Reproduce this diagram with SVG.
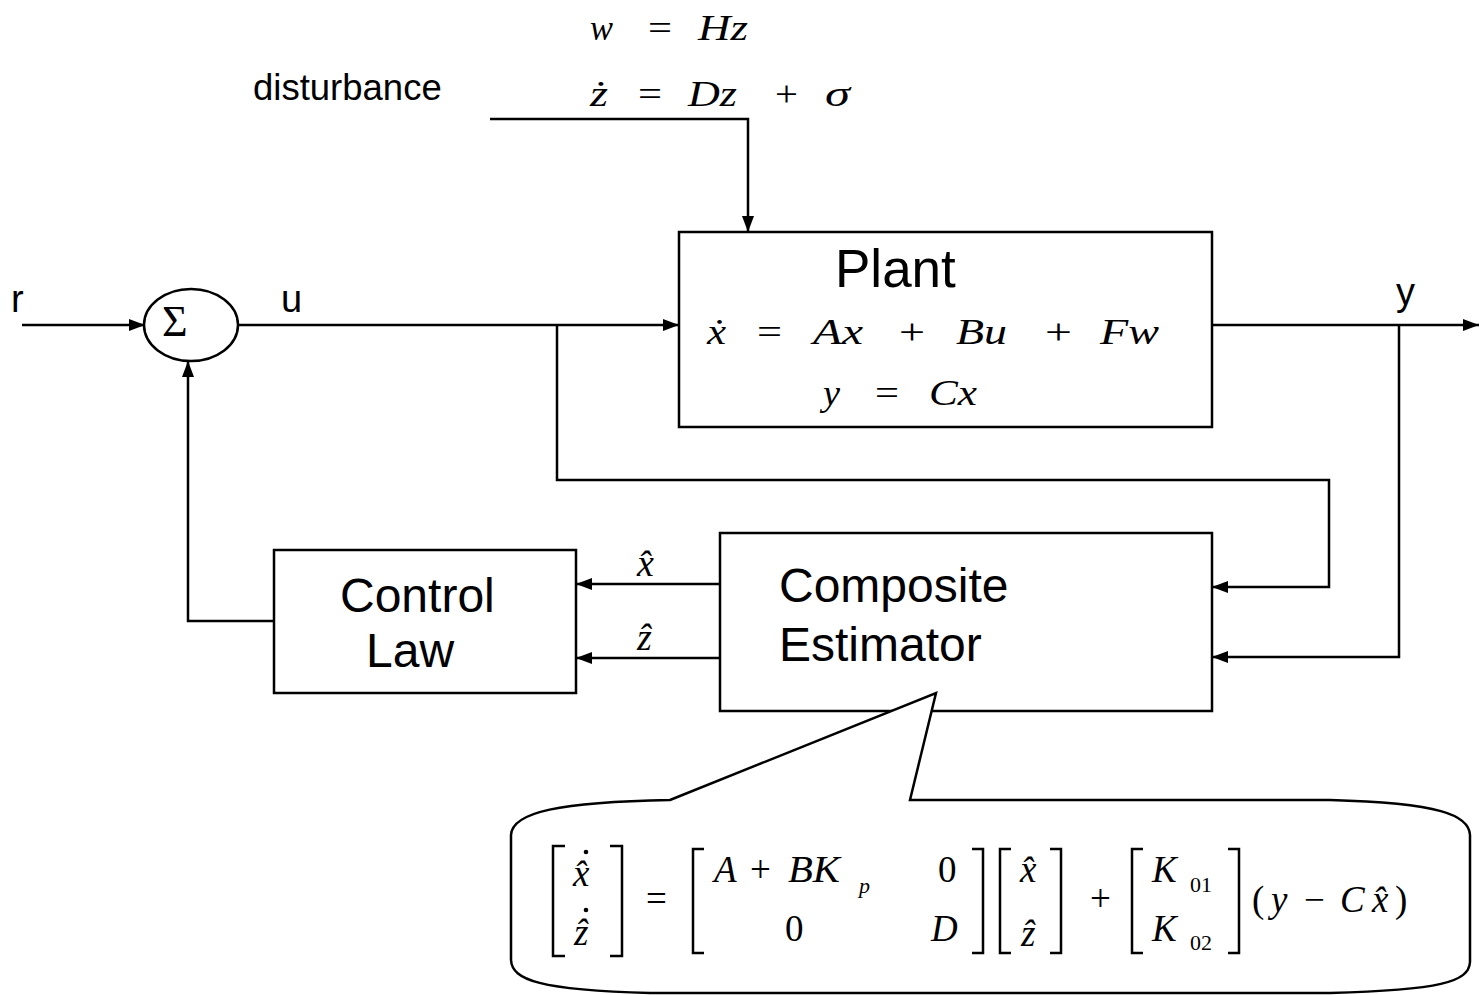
<svg xmlns="http://www.w3.org/2000/svg" width="1479" height="995" viewBox="0 0 1479 995">
<style>
.ln{fill:none;stroke:#000;stroke-width:2.5}
.bx{fill:#fff;stroke:#000;stroke-width:2.5}
.sans{font-family:"Liberation Sans",Arial,sans-serif;fill:#000}
.m{font-family:"Liberation Serif","Times New Roman",serif;font-style:italic;fill:#000}
.r{font-family:"Liberation Serif","Times New Roman",serif;fill:#000}
.br{fill:none;stroke:#000;stroke-width:2.5}
</style>
<defs>
<marker id="ah" viewBox="0 0 16 12" refX="16" refY="6" markerWidth="16" markerHeight="12" markerUnits="userSpaceOnUse" orient="auto">
<path d="M0,0 L16,6 L0,12 Z" fill="#000"/>
</marker>
</defs>
<rect width="1479" height="995" fill="#fff"/>

<g id="connectors">
<path class="ln" d="M490,119 H748 V232" marker-end="url(#ah)"/>
<path class="ln" d="M22,325 H145" marker-end="url(#ah)"/>
<path class="ln" d="M238,325 H679" marker-end="url(#ah)"/>
<path class="ln" d="M557,325 V480 H1329 V587 H1212" marker-end="url(#ah)"/>
<path class="ln" d="M1212,325 H1479" marker-end="url(#ah)"/>
<path class="ln" d="M1399,325 V657 H1212" marker-end="url(#ah)"/>
<path class="ln" d="M720,584 H576" marker-end="url(#ah)"/>
<path class="ln" d="M720,658 H576" marker-end="url(#ah)"/>
<path class="ln" d="M274,621 H188 V361" marker-end="url(#ah)"/>
</g>

<g id="labels">
<text class="sans" x="253" y="100" font-size="36.5">disturbance</text>
<text class="sans" x="11" y="312" font-size="38">r</text>
<text class="sans" x="281" y="312" font-size="38">u</text>
<text class="sans" x="1396" y="305" font-size="38">y</text>
<text class="m" x="637" y="576" font-size="38">x&#x302;</text>
<text class="m" x="637" y="650" font-size="38">&#x1E91;</text>
</g>

<g id="disturbance-model">
<text class="m" x="590" y="40" font-size="36" textLength="23" lengthAdjust="spacingAndGlyphs">w</text>
<text class="r" x="648" y="40" font-size="36" textLength="24" lengthAdjust="spacingAndGlyphs">=</text>
<text class="m" x="698" y="40" font-size="36" textLength="50" lengthAdjust="spacingAndGlyphs">Hz</text>
<text class="m" x="590" y="106" font-size="36" textLength="18" lengthAdjust="spacingAndGlyphs">&#x17C;</text>
<text class="r" x="638" y="106" font-size="36" textLength="24" lengthAdjust="spacingAndGlyphs">=</text>
<text class="m" x="688" y="106" font-size="36" textLength="49" lengthAdjust="spacingAndGlyphs">Dz</text>
<text class="r" x="775" y="106" font-size="36" textLength="23" lengthAdjust="spacingAndGlyphs">+</text>
<text class="m" x="825" y="106" font-size="36" textLength="25" lengthAdjust="spacingAndGlyphs">σ</text>
</g>

<g id="sum">
<ellipse cx="191" cy="325" rx="47" ry="36" class="bx"/>
<text class="r" x="162" y="336" font-size="44">Σ</text>
</g>

<g id="plant">
<rect x="679" y="232" width="533" height="195" class="bx"/>
<text class="sans" x="835" y="287" font-size="53">Plant</text>
<text class="m" x="707" y="344" font-size="36" textLength="19" lengthAdjust="spacingAndGlyphs">&#x1E8B;</text>
<text class="r" x="757" y="344" font-size="36" textLength="25" lengthAdjust="spacingAndGlyphs">=</text>
<text class="m" x="813" y="344" font-size="36" textLength="50" lengthAdjust="spacingAndGlyphs">Ax</text>
<text class="r" x="899" y="344" font-size="36" textLength="26" lengthAdjust="spacingAndGlyphs">+</text>
<text class="m" x="956" y="344" font-size="36" textLength="51" lengthAdjust="spacingAndGlyphs">Bu</text>
<text class="r" x="1045" y="344" font-size="36" textLength="27" lengthAdjust="spacingAndGlyphs">+</text>
<text class="m" x="1100" y="344" font-size="36" textLength="59" lengthAdjust="spacingAndGlyphs">Fw</text>
<text class="m" x="823" y="405" font-size="36" textLength="17" lengthAdjust="spacingAndGlyphs">y</text>
<text class="r" x="875" y="405" font-size="36" textLength="24" lengthAdjust="spacingAndGlyphs">=</text>
<text class="m" x="929" y="405" font-size="36" textLength="48" lengthAdjust="spacingAndGlyphs">Cx</text>
</g>

<g id="control-law">
<rect x="274" y="550" width="302" height="143" class="bx"/>
<text class="sans" x="340" y="612" font-size="48">Control</text>
<text class="sans" x="366" y="667" font-size="48">Law</text>
</g>

<g id="estimator">
<rect x="720" y="533" width="492" height="178" class="bx"/>
<text class="sans" x="779" y="602" font-size="48">Composite</text>
<text class="sans" x="779" y="661" font-size="48">Estimator</text>
</g>

<g id="callout">
<path class="bx" d="M670,800 L936,693 L910,800 L1330,800 C1440,803 1469,815 1470,835 L1470,962 C1469,982 1440,990 1330,993 L650,993 C540,990 512,980 511,960 L511,835 C512,812 560,802 670,800 Z"/>
<path class="br" d="M565,846 H553 V956 H565 M610,846 H622 V956 H610"/>
<text class="m" x="573" y="886" font-size="37">x&#x302;</text>
<circle cx="586" cy="852" r="2.3" fill="#000"/>
<text class="m" x="574" y="945" font-size="37">&#x1E91;</text>
<circle cx="586" cy="910" r="2.3" fill="#000"/>
<text class="r" x="646" y="911" font-size="37">=</text>
<path class="br" d="M704,849 H693 V953 H704 M972,849 H983 V953 H972"/>
<text class="m" x="714" y="882" font-size="37">A</text>
<text class="r" x="750" y="882" font-size="37">+</text>
<text class="m" x="788" y="882" font-size="37" textLength="52" lengthAdjust="spacingAndGlyphs">BK</text>
<text class="m" x="859" y="893" font-size="22">p</text>
<text class="r" x="938" y="882" font-size="37">0</text>
<text class="r" x="785" y="941" font-size="37">0</text>
<text class="m" x="931" y="941" font-size="37">D</text>
<path class="br" d="M1011,849 H1000 V953 H1011 M1050,849 H1061 V953 H1050"/>
<text class="m" x="1020" y="882" font-size="37">x&#x302;</text>
<text class="m" x="1021" y="946" font-size="37">&#x1E91;</text>
<text class="r" x="1090" y="911" font-size="37">+</text>
<path class="br" d="M1143,849 H1132 V953 H1143 M1228,849 H1239 V953 H1228"/>
<text class="m" x="1152" y="882" font-size="37">K</text>
<text class="r" x="1190" y="892" font-size="22">01</text>
<text class="m" x="1152" y="941" font-size="37">K</text>
<text class="r" x="1190" y="950" font-size="22">02</text>
<text class="r" x="1252" y="912" font-size="37">(</text>
<text class="m" x="1271" y="912" font-size="37">y</text>
<text class="r" x="1304" y="912" font-size="37">−</text>
<text class="m" x="1340" y="912" font-size="37">C</text>
<text class="m" x="1372" y="912" font-size="37">x&#x302;</text>
<text class="r" x="1395" y="912" font-size="37">)</text>
</g>
</svg>
